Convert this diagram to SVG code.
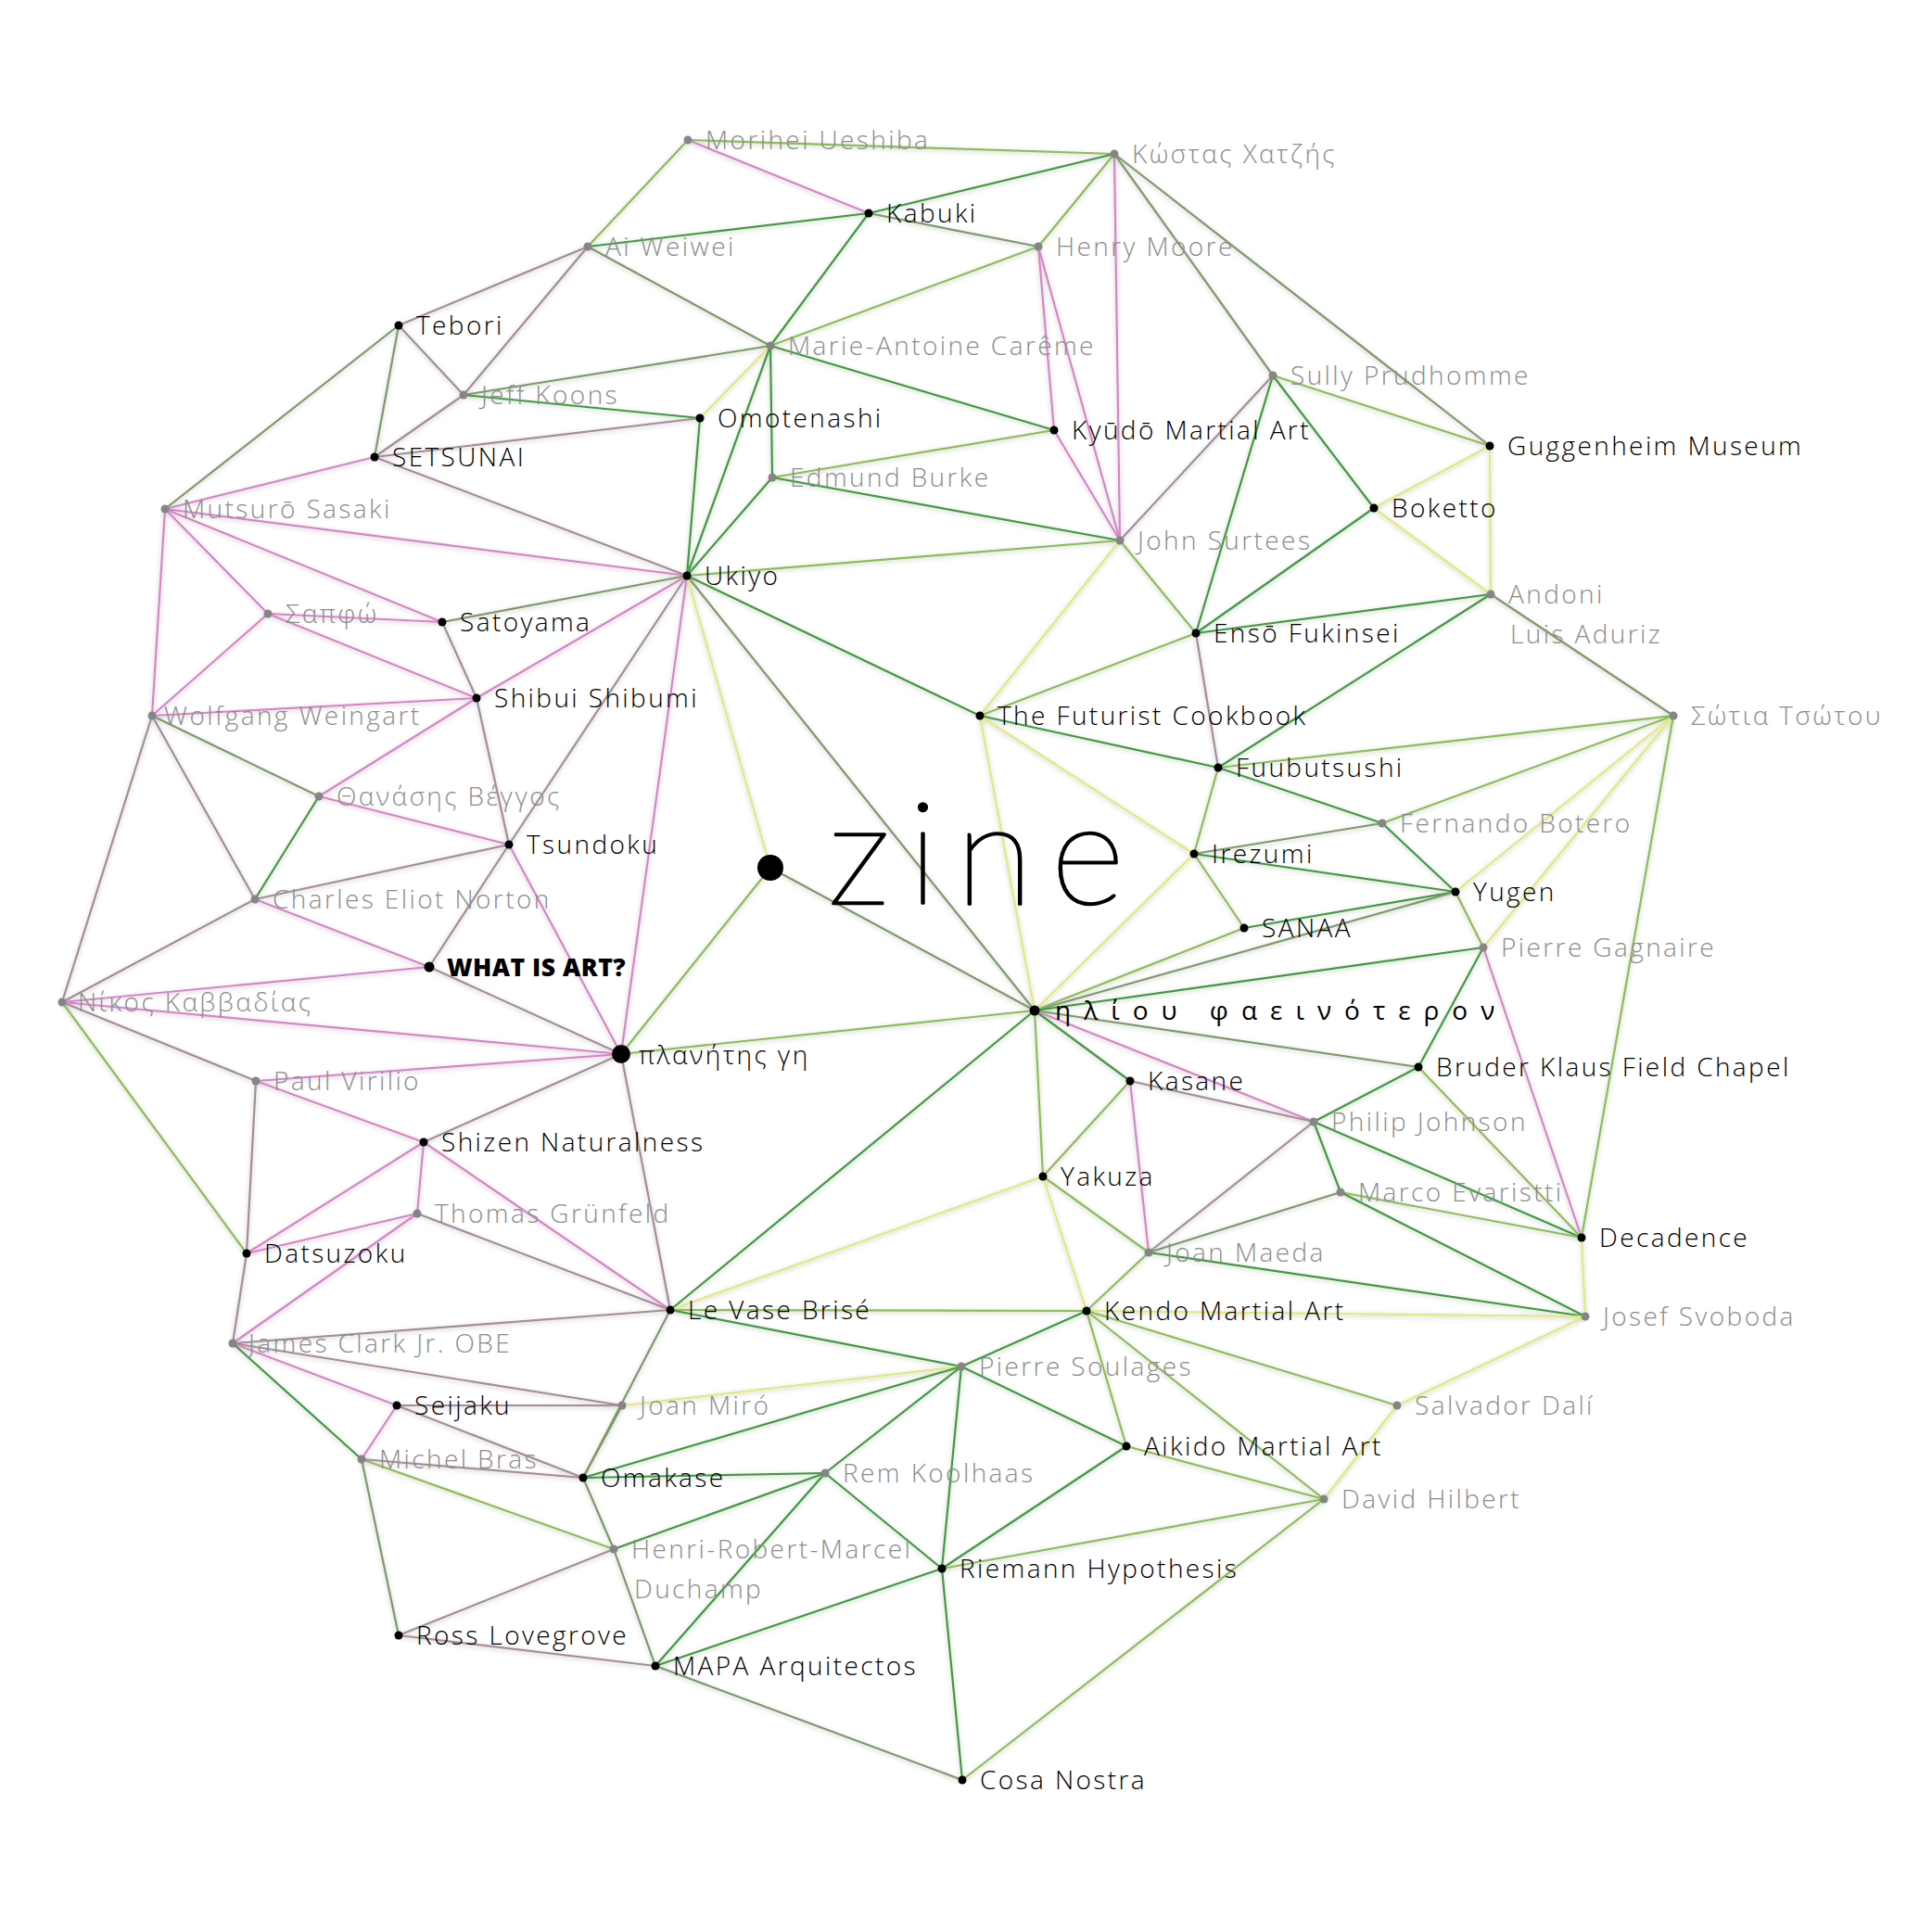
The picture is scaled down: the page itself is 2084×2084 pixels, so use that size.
<svg xmlns="http://www.w3.org/2000/svg" width="2084" height="2084" viewBox="0 0 2084 2084">
<defs>
<filter id="sh" x="-5%" y="-5%" width="110%" height="110%">
<feDropShadow dx="0" dy="1.5" stdDeviation="2.5" flood-color="#000" flood-opacity="0.22"/>
</filter>
<style>
line{stroke-width:2.2;stroke-linecap:round;fill:none}
.p{stroke:#d884c8}.g{stroke:#3f9a3f}.lg{stroke:#8cbd55}.y{stroke:#e2e97a}.m{stroke:#a38d99}.gg{stroke:#7c9a6a}
.d{fill:#000}.gd{fill:#858585}
text{font-family:"Open Sans","Noto Sans","DejaVu Sans",sans-serif;font-size:28px;font-weight:300;letter-spacing:2.4px}
.t{fill:#000}.tg{fill:#8c8c8c}
</style>
</defs>
<rect width="2084" height="2084" fill="#fff"/>
<g id="connectors" filter="url(#sh)">
<line class="lg" x1="742" y1="151" x2="634" y2="266"/>
<line class="p" x1="742" y1="151" x2="937" y2="230"/>
<line class="lg" x1="742" y1="151" x2="1202" y2="166"/>
<line class="g" x1="634" y1="266" x2="937" y2="230"/>
<line class="m" x1="634" y1="266" x2="430" y2="351"/>
<line class="m" x1="634" y1="266" x2="500" y2="426"/>
<line class="gg" x1="634" y1="266" x2="831" y2="373"/>
<line class="gg" x1="430" y1="351" x2="178" y2="549"/>
<line class="gg" x1="430" y1="351" x2="404" y2="493"/>
<line class="m" x1="430" y1="351" x2="500" y2="426"/>
<line class="gg" x1="500" y1="426" x2="831" y2="373"/>
<line class="g" x1="500" y1="426" x2="755" y2="451"/>
<line class="m" x1="500" y1="426" x2="404" y2="493"/>
<line class="m" x1="404" y1="493" x2="755" y2="451"/>
<line class="p" x1="404" y1="493" x2="178" y2="549"/>
<line class="m" x1="404" y1="493" x2="741" y2="621"/>
<line class="y" x1="755" y1="451" x2="831" y2="373"/>
<line class="g" x1="755" y1="451" x2="741" y2="621"/>
<line class="p" x1="178" y1="549" x2="741" y2="621"/>
<line class="p" x1="178" y1="549" x2="289" y2="662"/>
<line class="p" x1="178" y1="549" x2="477" y2="671"/>
<line class="p" x1="178" y1="549" x2="164" y2="772"/>
<line class="p" x1="289" y1="662" x2="477" y2="671"/>
<line class="p" x1="289" y1="662" x2="514" y2="753"/>
<line class="p" x1="289" y1="662" x2="164" y2="772"/>
<line class="gg" x1="477" y1="671" x2="741" y2="621"/>
<line class="m" x1="477" y1="671" x2="514" y2="753"/>
<line class="g" x1="937" y1="230" x2="1202" y2="166"/>
<line class="gg" x1="937" y1="230" x2="1120" y2="266"/>
<line class="g" x1="937" y1="230" x2="831" y2="373"/>
<line class="lg" x1="1202" y1="166" x2="1120" y2="266"/>
<line class="p" x1="1202" y1="166" x2="1208" y2="583"/>
<line class="gg" x1="1202" y1="166" x2="1373" y2="405"/>
<line class="gg" x1="1202" y1="166" x2="1607" y2="481"/>
<line class="lg" x1="1120" y1="266" x2="831" y2="373"/>
<line class="p" x1="1120" y1="266" x2="1137" y2="464"/>
<line class="p" x1="1120" y1="266" x2="1208" y2="583"/>
<line class="g" x1="831" y1="373" x2="741" y2="621"/>
<line class="g" x1="831" y1="373" x2="833" y2="515"/>
<line class="g" x1="831" y1="373" x2="1137" y2="464"/>
<line class="lg" x1="1137" y1="464" x2="833" y2="515"/>
<line class="p" x1="1137" y1="464" x2="1208" y2="583"/>
<line class="g" x1="833" y1="515" x2="741" y2="621"/>
<line class="g" x1="833" y1="515" x2="1208" y2="583"/>
<line class="lg" x1="1208" y1="583" x2="741" y2="621"/>
<line class="m" x1="1208" y1="583" x2="1373" y2="405"/>
<line class="lg" x1="1208" y1="583" x2="1290" y2="683"/>
<line class="y" x1="1208" y1="583" x2="1057" y2="772"/>
<line class="g" x1="1373" y1="405" x2="1290" y2="683"/>
<line class="lg" x1="1373" y1="405" x2="1607" y2="481"/>
<line class="g" x1="1373" y1="405" x2="1482" y2="548"/>
<line class="y" x1="1607" y1="481" x2="1482" y2="548"/>
<line class="y" x1="1607" y1="481" x2="1608" y2="641"/>
<line class="y" x1="1482" y1="548" x2="1608" y2="641"/>
<line class="g" x1="1482" y1="548" x2="1290" y2="683"/>
<line class="g" x1="1608" y1="641" x2="1290" y2="683"/>
<line class="g" x1="1608" y1="641" x2="1314" y2="828"/>
<line class="gg" x1="1608" y1="641" x2="1805" y2="772"/>
<line class="lg" x1="1290" y1="683" x2="1057" y2="772"/>
<line class="m" x1="1290" y1="683" x2="1314" y2="828"/>
<line class="g" x1="1057" y1="772" x2="1314" y2="828"/>
<line class="y" x1="1057" y1="772" x2="1288" y2="921"/>
<line class="y" x1="1057" y1="772" x2="1116" y2="1090"/>
<line class="g" x1="741" y1="621" x2="1057" y2="772"/>
<line class="gg" x1="741" y1="621" x2="1116" y2="1090"/>
<line class="y" x1="741" y1="621" x2="831" y2="936"/>
<line class="p" x1="741" y1="621" x2="670" y2="1137"/>
<line class="m" x1="741" y1="621" x2="549" y2="911"/>
<line class="p" x1="741" y1="621" x2="514" y2="753"/>
<line class="lg" x1="1314" y1="828" x2="1805" y2="772"/>
<line class="g" x1="1314" y1="828" x2="1491" y2="888"/>
<line class="lg" x1="1314" y1="828" x2="1288" y2="921"/>
<line class="lg" x1="1805" y1="772" x2="1491" y2="888"/>
<line class="y" x1="1805" y1="772" x2="1570" y2="962"/>
<line class="y" x1="1805" y1="772" x2="1600" y2="1022"/>
<line class="lg" x1="1805" y1="772" x2="1706" y2="1335"/>
<line class="gg" x1="1491" y1="888" x2="1288" y2="921"/>
<line class="g" x1="1491" y1="888" x2="1570" y2="962"/>
<line class="g" x1="1288" y1="921" x2="1570" y2="962"/>
<line class="lg" x1="1288" y1="921" x2="1342" y2="1001"/>
<line class="y" x1="1288" y1="921" x2="1116" y2="1090"/>
<line class="g" x1="1570" y1="962" x2="1342" y2="1001"/>
<line class="gg" x1="1570" y1="962" x2="1116" y2="1090"/>
<line class="lg" x1="1570" y1="962" x2="1600" y2="1022"/>
<line class="lg" x1="1342" y1="1001" x2="1116" y2="1090"/>
<line class="g" x1="1600" y1="1022" x2="1116" y2="1090"/>
<line class="g" x1="1600" y1="1022" x2="1530" y2="1151"/>
<line class="p" x1="1600" y1="1022" x2="1706" y2="1335"/>
<line class="gg" x1="1116" y1="1090" x2="1530" y2="1151"/>
<line class="g" x1="1116" y1="1090" x2="1219" y2="1166"/>
<line class="p" x1="1116" y1="1090" x2="1417" y2="1210"/>
<line class="lg" x1="1116" y1="1090" x2="1125" y2="1269"/>
<line class="lg" x1="1116" y1="1090" x2="670" y2="1137"/>
<line class="g" x1="1116" y1="1090" x2="723" y2="1413"/>
<line class="gg" x1="1116" y1="1090" x2="831" y2="936"/>
<line class="lg" x1="831" y1="936" x2="670" y2="1137"/>
<line class="g" x1="1530" y1="1151" x2="1417" y2="1210"/>
<line class="lg" x1="1530" y1="1151" x2="1706" y2="1335"/>
<line class="m" x1="1219" y1="1166" x2="1417" y2="1210"/>
<line class="lg" x1="1219" y1="1166" x2="1125" y2="1269"/>
<line class="p" x1="1219" y1="1166" x2="1239" y2="1351"/>
<line class="g" x1="1417" y1="1210" x2="1446" y2="1286"/>
<line class="g" x1="1417" y1="1210" x2="1706" y2="1335"/>
<line class="m" x1="1417" y1="1210" x2="1239" y2="1351"/>
<line class="lg" x1="1446" y1="1286" x2="1706" y2="1335"/>
<line class="g" x1="1446" y1="1286" x2="1710" y2="1420"/>
<line class="gg" x1="1446" y1="1286" x2="1239" y2="1351"/>
<line class="y" x1="1706" y1="1335" x2="1710" y2="1420"/>
<line class="g" x1="1710" y1="1420" x2="1239" y2="1351"/>
<line class="y" x1="1710" y1="1420" x2="1172" y2="1414"/>
<line class="y" x1="1710" y1="1420" x2="1507" y2="1516"/>
<line class="lg" x1="1507" y1="1516" x2="1172" y2="1414"/>
<line class="y" x1="1507" y1="1516" x2="1428" y2="1617"/>
<line class="lg" x1="1125" y1="1269" x2="1239" y2="1351"/>
<line class="y" x1="1125" y1="1269" x2="1172" y2="1414"/>
<line class="y" x1="1125" y1="1269" x2="723" y2="1413"/>
<line class="lg" x1="1239" y1="1351" x2="1172" y2="1414"/>
<line class="lg" x1="1172" y1="1414" x2="723" y2="1413"/>
<line class="lg" x1="1172" y1="1414" x2="1428" y2="1617"/>
<line class="lg" x1="1172" y1="1414" x2="1215" y2="1560"/>
<line class="g" x1="1172" y1="1414" x2="1037" y2="1474"/>
<line class="g" x1="1037" y1="1474" x2="1215" y2="1560"/>
<line class="g" x1="1037" y1="1474" x2="1016" y2="1692"/>
<line class="g" x1="1037" y1="1474" x2="890" y2="1589"/>
<line class="g" x1="1037" y1="1474" x2="723" y2="1413"/>
<line class="y" x1="1037" y1="1474" x2="671" y2="1516"/>
<line class="g" x1="1037" y1="1474" x2="629" y2="1594"/>
<line class="g" x1="1215" y1="1560" x2="1016" y2="1692"/>
<line class="lg" x1="1215" y1="1560" x2="1428" y2="1617"/>
<line class="lg" x1="1428" y1="1617" x2="1016" y2="1692"/>
<line class="lg" x1="1428" y1="1617" x2="1038" y2="1920"/>
<line class="g" x1="1016" y1="1692" x2="890" y2="1589"/>
<line class="g" x1="1016" y1="1692" x2="707" y2="1797"/>
<line class="g" x1="1016" y1="1692" x2="1038" y2="1920"/>
<line class="g" x1="890" y1="1589" x2="707" y2="1797"/>
<line class="g" x1="890" y1="1589" x2="629" y2="1594"/>
<line class="g" x1="890" y1="1589" x2="662" y2="1671"/>
<line class="gg" x1="1038" y1="1920" x2="707" y2="1797"/>
<line class="gg" x1="707" y1="1797" x2="662" y2="1671"/>
<line class="m" x1="707" y1="1797" x2="430" y2="1764"/>
<line class="gg" x1="662" y1="1671" x2="629" y2="1594"/>
<line class="lg" x1="662" y1="1671" x2="390" y2="1574"/>
<line class="m" x1="662" y1="1671" x2="430" y2="1764"/>
<line class="gg" x1="629" y1="1594" x2="723" y2="1413"/>
<line class="gg" x1="629" y1="1594" x2="671" y2="1516"/>
<line class="m" x1="629" y1="1594" x2="390" y2="1574"/>
<line class="m" x1="629" y1="1594" x2="428" y2="1516"/>
<line class="m" x1="671" y1="1516" x2="251" y2="1449"/>
<line class="m" x1="671" y1="1516" x2="428" y2="1516"/>
<line class="p" x1="428" y1="1516" x2="251" y2="1449"/>
<line class="p" x1="428" y1="1516" x2="390" y2="1574"/>
<line class="g" x1="390" y1="1574" x2="251" y2="1449"/>
<line class="gg" x1="390" y1="1574" x2="430" y2="1764"/>
<line class="m" x1="251" y1="1449" x2="266" y2="1352"/>
<line class="p" x1="251" y1="1449" x2="450" y2="1309"/>
<line class="m" x1="251" y1="1449" x2="723" y2="1413"/>
<line class="m" x1="266" y1="1352" x2="276" y2="1166"/>
<line class="lg" x1="266" y1="1352" x2="67" y2="1081"/>
<line class="p" x1="266" y1="1352" x2="457" y2="1232"/>
<line class="p" x1="266" y1="1352" x2="450" y2="1309"/>
<line class="p" x1="450" y1="1309" x2="457" y2="1232"/>
<line class="m" x1="450" y1="1309" x2="723" y2="1413"/>
<line class="p" x1="457" y1="1232" x2="276" y2="1166"/>
<line class="m" x1="457" y1="1232" x2="670" y2="1137"/>
<line class="p" x1="457" y1="1232" x2="723" y2="1413"/>
<line class="m" x1="723" y1="1413" x2="670" y2="1137"/>
<line class="m" x1="276" y1="1166" x2="67" y2="1081"/>
<line class="p" x1="276" y1="1166" x2="670" y2="1137"/>
<line class="m" x1="67" y1="1081" x2="164" y2="772"/>
<line class="m" x1="67" y1="1081" x2="275" y2="970"/>
<line class="p" x1="67" y1="1081" x2="463" y2="1043"/>
<line class="p" x1="67" y1="1081" x2="670" y2="1137"/>
<line class="m" x1="670" y1="1137" x2="463" y2="1043"/>
<line class="p" x1="670" y1="1137" x2="549" y2="911"/>
<line class="p" x1="463" y1="1043" x2="275" y2="970"/>
<line class="m" x1="463" y1="1043" x2="549" y2="911"/>
<line class="m" x1="549" y1="911" x2="514" y2="753"/>
<line class="p" x1="549" y1="911" x2="344" y2="859"/>
<line class="m" x1="549" y1="911" x2="275" y2="970"/>
<line class="m" x1="275" y1="970" x2="164" y2="772"/>
<line class="g" x1="275" y1="970" x2="344" y2="859"/>
<line class="gg" x1="344" y1="859" x2="164" y2="772"/>
<line class="p" x1="344" y1="859" x2="514" y2="753"/>
<line class="p" x1="164" y1="772" x2="514" y2="753"/>
</g>
<g id="nodes">
<g id="n-morihei"><circle class="gd" cx="742" cy="151" r="4.5"/><text class="tg" x="761" y="161">Morihei Ueshiba</text></g>
<g id="n-kostas"><circle class="gd" cx="1202" cy="166" r="4.5"/><text class="tg" x="1221" y="176">Κώστας Χατζής</text></g>
<g id="n-kabuki"><circle class="d" cx="937" cy="230" r="4.5"/><text class="t" x="956" y="240">Kabuki</text></g>
<g id="n-aiweiwei"><circle class="gd" cx="634" cy="266" r="4.5"/><text class="tg" x="653" y="276">Ai Weiwei</text></g>
<g id="n-henry"><circle class="gd" cx="1120" cy="266" r="4.5"/><text class="tg" x="1139" y="276">Henry Moore</text></g>
<g id="n-tebori"><circle class="d" cx="430" cy="351" r="4.5"/><text class="t" x="449" y="361">Tebori</text></g>
<g id="n-careme"><circle class="gd" cx="831" cy="373" r="4.5"/><text class="tg" x="850" y="383">Marie-Antoine Carême</text></g>
<g id="n-sully"><circle class="gd" cx="1373" cy="405" r="4.5"/><text class="tg" x="1392" y="415">Sully Prudhomme</text></g>
<g id="n-koons"><circle class="gd" cx="500" cy="426" r="4.5"/><text class="tg" x="519" y="436">Jeff Koons</text></g>
<g id="n-omotenashi"><circle class="d" cx="755" cy="451" r="4.5"/><text class="t" x="774" y="461">Omotenashi</text></g>
<g id="n-kyudo"><circle class="d" cx="1137" cy="464" r="4.5"/><text class="t" x="1156" y="474">Kyūdō Martial Art</text></g>
<g id="n-guggenheim"><circle class="d" cx="1607" cy="481" r="4.5"/><text class="t" x="1626" y="491">Guggenheim Museum</text></g>
<g id="n-setsunai"><circle class="d" cx="404" cy="493" r="4.5"/><text class="t" x="423" y="503">SETSUNAI</text></g>
<g id="n-burke"><circle class="gd" cx="833" cy="515" r="4.5"/><text class="tg" x="852" y="525">Edmund Burke</text></g>
<g id="n-mutsuro"><circle class="gd" cx="178" cy="549" r="4.5"/><text class="tg" x="197" y="559">Mutsurō Sasaki</text></g>
<g id="n-boketto"><circle class="d" cx="1482" cy="548" r="4.5"/><text class="t" x="1501" y="558">Boketto</text></g>
<g id="n-surtees"><circle class="gd" cx="1208" cy="583" r="4.5"/><text class="tg" x="1227" y="593">John Surtees</text></g>
<g id="n-ukiyo"><circle class="d" cx="741" cy="621" r="4.5"/><text class="t" x="760" y="631">Ukiyo</text></g>
<g id="n-andoni"><circle class="gd" cx="1608" cy="641" r="4.5"/><text class="tg" x="1627" y="651">Andoni</text><text class="tg" x="1629" y="694">Luis Aduriz</text></g>
<g id="n-sappho"><circle class="gd" cx="289" cy="662" r="4.5"/><text class="tg" x="308" y="672">Σαπφώ</text></g>
<g id="n-satoyama"><circle class="d" cx="477" cy="671" r="4.5"/><text class="t" x="496" y="681">Satoyama</text></g>
<g id="n-enso"><circle class="d" cx="1290" cy="683" r="4.5"/><text class="t" x="1309" y="693">Ensō Fukinsei</text></g>
<g id="n-shibui"><circle class="d" cx="514" cy="753" r="4.5"/><text class="t" x="533" y="763">Shibui Shibumi</text></g>
<g id="n-weingart"><circle class="gd" cx="164" cy="772" r="4.5"/><text class="tg" x="177" y="782">Wolfgang Weingart</text></g>
<g id="n-futurist"><circle class="d" cx="1057" cy="772" r="4.5"/><text class="t" x="1076" y="782">The Futurist Cookbook</text></g>
<g id="n-sotia"><circle class="gd" cx="1805" cy="772" r="4.5"/><text class="tg" x="1824" y="782">Σώτια Τσώτου</text></g>
<g id="n-fuubutsushi"><circle class="d" cx="1314" cy="828" r="4.5"/><text class="t" x="1333" y="838">Fuubutsushi</text></g>
<g id="n-vengos"><circle class="gd" cx="344" cy="859" r="4.5"/><text class="tg" x="363" y="869">Θανάσης Βέγγος</text></g>
<g id="n-botero"><circle class="gd" cx="1491" cy="888" r="4.5"/><text class="tg" x="1510" y="898">Fernando Botero</text></g>
<g id="n-tsundoku"><circle class="d" cx="549" cy="911" r="4.5"/><text class="t" x="568" y="921">Tsundoku</text></g>
<g id="n-irezumi"><circle class="d" cx="1288" cy="921" r="4.5"/><text class="t" x="1307" y="931">Irezumi</text></g>
<g id="n-zine"><circle class="d" cx="831" cy="936" r="14"/><text class="t" x="893" y="975" style="font-family:Lato,'Open Sans',sans-serif;font-size:154px;font-weight:200;letter-spacing:0;stroke:#000;stroke-width:2.6px;stroke-linejoin:round" textLength="320" lengthAdjust="spacing">zine</text></g>
<g id="n-yugen"><circle class="d" cx="1570" cy="962" r="4.5"/><text class="t" x="1589" y="972">Yugen</text></g>
<g id="n-norton"><circle class="gd" cx="275" cy="970" r="4.5"/><text class="tg" x="294" y="980">Charles Eliot Norton</text></g>
<g id="n-sanaa"><circle class="d" cx="1342" cy="1001" r="4.5"/><text class="t" x="1361" y="1011">SANAA</text></g>
<g id="n-gagnaire"><circle class="gd" cx="1600" cy="1022" r="4.5"/><text class="tg" x="1619" y="1032">Pierre Gagnaire</text></g>
<g id="n-whatisart"><circle class="d" cx="463" cy="1043" r="5.5"/><text class="t" x="482" y="1053" style="font-weight:800;font-size:26.5px;letter-spacing:0.5px">WHAT IS ART?</text></g>
<g id="n-nikos"><circle class="gd" cx="67" cy="1081" r="4.5"/><text class="tg" x="84" y="1091">Νίκος Καββαδίας</text></g>
<g id="n-iliou"><circle class="d" cx="1116" cy="1090" r="5.5"/><text class="t" x="1138" y="1100" style="font-weight:400;letter-spacing:14px">ηλίου φαεινότερον</text></g>
<g id="n-planitis"><circle class="d" cx="670" cy="1137" r="10"/><text class="t" x="689" y="1148">πλανήτης γη</text></g>
<g id="n-bruder"><circle class="d" cx="1530" cy="1151" r="4.5"/><text class="t" x="1549" y="1161">Bruder Klaus Field Chapel</text></g>
<g id="n-kasane"><circle class="d" cx="1219" cy="1166" r="4.5"/><text class="t" x="1238" y="1176">Kasane</text></g>
<g id="n-virilio"><circle class="gd" cx="276" cy="1166" r="4.5"/><text class="tg" x="295" y="1176">Paul Virilio</text></g>
<g id="n-johnson"><circle class="gd" cx="1417" cy="1210" r="4.5"/><text class="tg" x="1436" y="1220">Philip Johnson</text></g>
<g id="n-shizen"><circle class="d" cx="457" cy="1232" r="4.5"/><text class="t" x="476" y="1242">Shizen Naturalness</text></g>
<g id="n-yakuza"><circle class="d" cx="1125" cy="1269" r="4.5"/><text class="t" x="1144" y="1279">Yakuza</text></g>
<g id="n-evaristti"><circle class="gd" cx="1446" cy="1286" r="4.5"/><text class="tg" x="1465" y="1296">Marco Evaristti</text></g>
<g id="n-grunfeld"><circle class="gd" cx="450" cy="1309" r="4.5"/><text class="tg" x="469" y="1319">Thomas Grünfeld</text></g>
<g id="n-decadence"><circle class="d" cx="1706" cy="1335" r="4.5"/><text class="t" x="1725" y="1345">Decadence</text></g>
<g id="n-maeda"><circle class="gd" cx="1239" cy="1351" r="4.5"/><text class="tg" x="1258" y="1361">Joan Maeda</text></g>
<g id="n-datsuzoku"><circle class="d" cx="266" cy="1352" r="4.5"/><text class="t" x="285" y="1362">Datsuzoku</text></g>
<g id="n-vase"><circle class="d" cx="723" cy="1413" r="4.5"/><text class="t" x="742" y="1423">Le Vase Brisé</text></g>
<g id="n-kendo"><circle class="d" cx="1172" cy="1414" r="4.5"/><text class="t" x="1191" y="1424">Kendo Martial Art</text></g>
<g id="n-svoboda"><circle class="gd" cx="1710" cy="1420" r="4.5"/><text class="tg" x="1729" y="1430">Josef Svoboda</text></g>
<g id="n-clark"><circle class="gd" cx="251" cy="1449" r="4.5"/><text class="tg" x="268" y="1459">James Clark Jr. OBE</text></g>
<g id="n-soulages"><circle class="gd" cx="1037" cy="1474" r="4.5"/><text class="tg" x="1056" y="1484">Pierre Soulages</text></g>
<g id="n-seijaku"><circle class="d" cx="428" cy="1516" r="4.5"/><text class="t" x="447" y="1526">Seijaku</text></g>
<g id="n-miro"><circle class="gd" cx="671" cy="1516" r="4.5"/><text class="tg" x="690" y="1526">Joan Miró</text></g>
<g id="n-dali"><circle class="gd" cx="1507" cy="1516" r="4.5"/><text class="tg" x="1526" y="1526">Salvador Dalí</text></g>
<g id="n-aikido"><circle class="d" cx="1215" cy="1560" r="4.5"/><text class="t" x="1234" y="1570">Aikido Martial Art</text></g>
<g id="n-bras"><circle class="gd" cx="390" cy="1574" r="4.5"/><text class="tg" x="409" y="1584">Michel Bras</text></g>
<g id="n-omakase"><circle class="d" cx="629" cy="1594" r="4.5"/><text class="t" x="648" y="1604">Omakase</text></g>
<g id="n-koolhaas"><circle class="gd" cx="890" cy="1589" r="4.5"/><text class="tg" x="909" y="1599">Rem Koolhaas</text></g>
<g id="n-hilbert"><circle class="gd" cx="1428" cy="1617" r="4.5"/><text class="tg" x="1447" y="1627">David Hilbert</text></g>
<g id="n-duchamp"><circle class="gd" cx="662" cy="1671" r="4.5"/><text class="tg" x="681" y="1681">Henri-Robert-Marcel</text><text class="tg" x="684" y="1724">Duchamp</text></g>
<g id="n-riemann"><circle class="d" cx="1016" cy="1692" r="4.5"/><text class="t" x="1035" y="1702">Riemann Hypothesis</text></g>
<g id="n-lovegrove"><circle class="d" cx="430" cy="1764" r="4.5"/><text class="t" x="449" y="1774">Ross Lovegrove</text></g>
<g id="n-mapa"><circle class="d" cx="707" cy="1797" r="4.5"/><text class="t" x="726" y="1807">MAPA Arquitectos</text></g>
<g id="n-cosanostra"><circle class="d" cx="1038" cy="1920" r="4.5"/><text class="t" x="1057" y="1930">Cosa Nostra</text></g>
</g>
</svg>
